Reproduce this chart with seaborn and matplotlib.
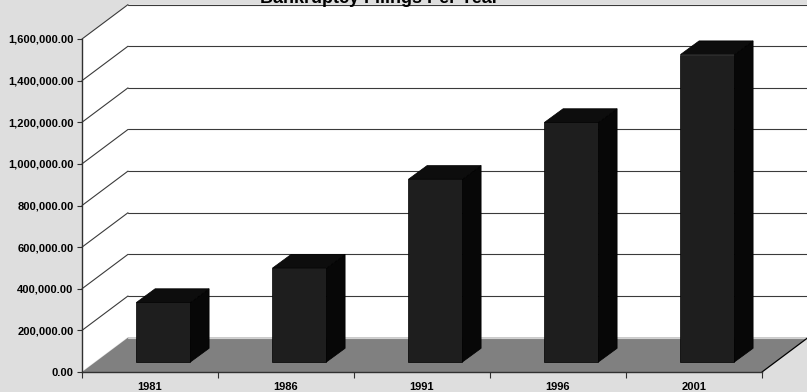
import matplotlib
matplotlib.use("Agg")
import matplotlib.pyplot as plt
from matplotlib.patches import Polygon
from matplotlib.ticker import FuncFormatter
import seaborn as sns
import pandas as pd

# ---- data ----
years = ["1981", "1986", "1991", "1996", "2001"]
filings = [286000, 451000, 878000, 1151000, 1477000]
y_ticks = [0, 200000, 400000, 600000, 800000, 1000000, 1200000, 1400000, 1600000]
title = "Bankruptcy Filings Per Year"

# ---- style ----
sns.set_style("white")
plt.rcParams["font.family"] = ["Liberation Sans", "DejaVu Sans"]

BG = "#dedede"
FRONT = "#1e1e1e"
SIDE = "#070707"
TOP = "#0d0d0d"
FLOOR = "#808080"
GRID = "#3a3a3a"

W, H, DPI = 807, 392, 100
fig = plt.figure(figsize=(W / DPI, H / DPI), dpi=DPI, facecolor=BG)

# front plane of the 3-D box (pixels)
L, R, B, T = 82, 762, 372, 39
ax = fig.add_axes([L / W, 1 - B / H, (R - L) / W, (B - T) / H])
ax.set_facecolor("white")
ymax = y_ticks[-1]
ax.set_xlim(-0.5, len(years) - 0.5)
ax.set_ylim(0, ymax)

px_x = (R - L) / len(years)        # pixels per category
px_y = (B - T) / ymax              # pixels per value unit

# wall depth offset (axes fraction)
wx = 46 / (R - L)
wy = 34.4 / (B - T)

# white walls (left + back), extending outside the axes
walls = Polygon([(0, 0), (0, 1), (wx, 1 + wy), (1 + wx, 1 + wy), (1 + wx, wy), (1, 0)],
                closed=True, transform=ax.transAxes, facecolor="white",
                edgecolor="none", zorder=0.1, clip_on=False)
ax.add_patch(walls)

# gridlines on left wall (diagonal) and back wall (horizontal)
for v in y_ticks:
    yf = v / ymax
    col = "#e8e8e8" if v == 0 else GRID
    ax.plot([0, wx], [yf, yf + wy], color=col, lw=0.8, transform=ax.transAxes,
            clip_on=False, zorder=0.3)
    ax.plot([wx, 1 + wx], [yf + wy, yf + wy], color=col, lw=0.8,
            transform=ax.transAxes, clip_on=False, zorder=0.3)

# floor
floor = Polygon([(0, 0), (1, 0), (1 + wx, wy), (wx, wy)], closed=True,
                transform=ax.transAxes, facecolor=FLOOR, edgecolor="none",
                zorder=0.4, clip_on=False)
ax.add_patch(floor)
ax.plot([wx, 1 + wx], [wy, wy], color="#d0d0d0", lw=0.8, transform=ax.transAxes,
        clip_on=False, zorder=0.45)
ax.plot([1, 1 + wx], [0, wy], color="black", lw=0.9, transform=ax.transAxes,
        clip_on=False, zorder=0.45)

# bars (front faces) via seaborn
df = pd.DataFrame({"year": years, "filings": filings})
sns.barplot(data=df, x="year", y="filings", color=FRONT, saturation=1,
            width=54 / px_x, edgecolor="black", linewidth=0.5, ax=ax, zorder=2)

# 3-D offsets in data units
fdx, fdy = 13.4 / px_x, 10 / px_y      # front face set back from front plane
ddx, ddy = 18.7 / px_x, 13.7 / px_y    # bar depth

for p in list(ax.patches):
    if not isinstance(p, matplotlib.patches.Rectangle) or p is walls:
        continue
    h = p.get_height()
    x0 = p.get_x() + fdx
    w = p.get_width()
    x1 = x0 + w
    p.set_x(x0)
    p.set_y(fdy)
    p.set_clip_on(False)
    yb, yt = fdy, fdy + h
    side = Polygon([(x1, yb), (x1, yt), (x1 + ddx, yt + ddy), (x1 + ddx, yb + ddy)],
                   closed=True, facecolor=SIDE, edgecolor="black", lw=0.5,
                   zorder=2, clip_on=False)
    top = Polygon([(x0, yt), (x1, yt), (x1 + ddx, yt + ddy), (x0 + ddx, yt + ddy)],
                  closed=True, facecolor=TOP, edgecolor="black", lw=0.5,
                  zorder=2, clip_on=False)
    ax.add_patch(side)
    ax.add_patch(top)

# axes styling
ax.set_xlabel("")
ax.set_ylabel("")
for s in ["top", "right"]:
    ax.spines[s].set_visible(False)
for s in ["left", "bottom"]:
    ax.spines[s].set_color("#303030")
    ax.spines[s].set_linewidth(1.0)
    ax.spines[s].set_zorder(3)

ax.set_yticks(y_ticks)
ax.yaxis.set_major_formatter(FuncFormatter(lambda v, _: f"{v:,.2f}"))
ax.tick_params(axis="y", which="major", left=True, length=3.6, width=0.8,
               color="#303030", pad=2.6, labelsize=8)
ax.set_xticks(range(len(years)))
ax.set_xticklabels(years)
ax.set_xticks([i - 0.5 for i in range(len(years) + 1)], minor=True)
ax.tick_params(axis="x", which="major", bottom=False, length=0, pad=7.5, labelsize=8)
ax.tick_params(axis="x", which="minor", bottom=True, length=4.3, width=0.8,
               color="#303030")
for lab in ax.get_xticklabels() + ax.get_yticklabels():
    lab.set_fontweight("bold")
    lab.set_color("black")

fig.text(379 / W, 1 - 3 / H, title, ha="center", va="baseline",
         fontsize=13, fontweight="bold", color="black")

fig.savefig("out.png", dpi=DPI, facecolor=BG)
